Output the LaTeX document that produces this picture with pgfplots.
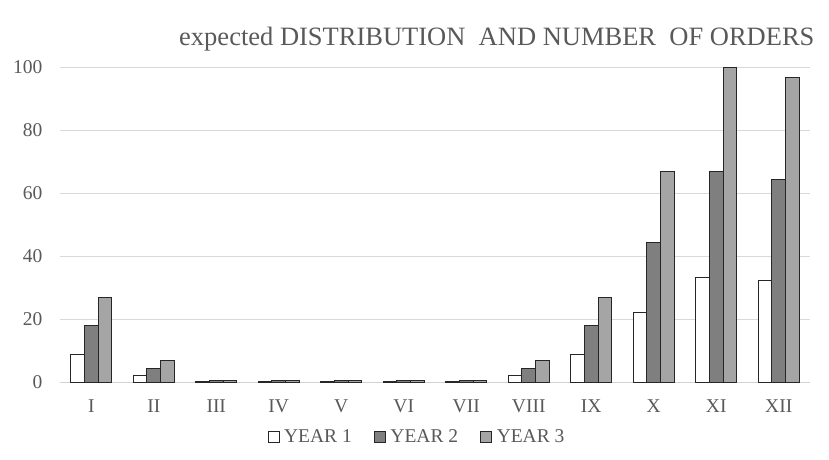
\documentclass[border=0pt]{standalone}
\usepackage{fontspec}
\setmainfont{Liberation Serif}
\usepackage{pgfplots}
\pgfplotsset{compat=1.18}
\definecolor{txt}{HTML}{595959}
\definecolor{ytwo}{HTML}{7F7F7F}
\definecolor{ythree}{HTML}{A5A5A5}
\begin{document}
\begin{tikzpicture}
\path[use as bounding box] (-60pt,-77pt) rectangle (769pt,382pt);
\begin{axis}[
  at={(0pt,0pt)}, anchor=south west,
  scale only axis, width=750pt, height=315pt,
  ymin=0, ymax=100, ytick={0,20,...,100},
  xmin=-0.5, xmax=11.5,
  xtick={0,...,11},
  xticklabels={I,II,III,IV,V,VI,VII,VIII,IX,X,XI,XII},
  axis x line*=bottom,
  axis y line*=left,
  x axis line style={draw=lightgray!70, line width=0.8pt, -},
  y axis line style={draw=none},
  major tick length=0pt,
  ymajorgrids, grid style={draw=lightgray!60, line width=0.6pt},
  /pgf/number format/assume math mode=true,
  tick label style={font=\fontsize{19.5}{19.5}\selectfont, text=txt},
  yticklabel style={xshift=-14pt},
  xticklabel style={yshift=-14pt},
  ybar=0pt, bar width=0.22,
  legend style={at={(0.476,-0.175)}, anchor=center, draw=none,
    font=\fontsize{19.5}{19.5}\selectfont, text=txt, legend columns=3,
    /tikz/every even column/.append style={column sep=20pt},
    /tikz/every odd column/.append style={column sep=3pt}},
  legend image code/.code={\draw[#1, line width=0.6pt] (0pt,-5.5pt) rectangle (11pt,5.5pt);},
]
\addplot[draw=black!85, line width=0.9pt, fill=white] coordinates {
(0,8.9) (1,2.2) (2,0.2) (3,0.2) (4,0.2) (5,0.2) (6,0.2) (7,2.2) (8,8.9) (9,22.2) (10,33.3) (11,32.2)};
\addplot[draw=black!85, line width=0.9pt, fill=ytwo] coordinates {
(0,17.8) (1,4.4) (2,0.5) (3,0.5) (4,0.5) (5,0.5) (6,0.5) (7,4.4) (8,17.8) (9,44.4) (10,66.7) (11,64.4)};
\addplot[draw=black!85, line width=0.9pt, fill=ythree] coordinates {
(0,26.7) (1,6.7) (2,0.6) (3,0.6) (4,0.6) (5,0.6) (6,0.6) (7,6.7) (8,26.7) (9,66.7) (10,100) (11,96.6)};
\legend{YEAR 1, YEAR 2, YEAR 3}
\end{axis}
\node[anchor=east, text=txt, font=\fontsize{26.5}{26.5}\selectfont] at (758pt,343pt) {expected DISTRIBUTION\ \ AND NUMBER\ \ OF ORDERS};
\end{tikzpicture}
\end{document}
